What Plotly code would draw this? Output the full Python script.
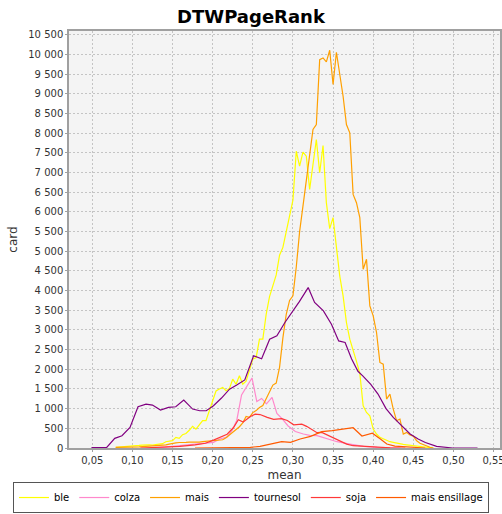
import plotly.graph_objects as go

# ---- data ----
# fine grid used by "ble" and "mais" (bin step 1/240)
MEAN_FINE = [round(0.05 + i / 240, 5) for i in range(7, 103)]

BLE = [15, 20, 25, 35, 45, 55, 58, 65, 75, 84, 80, 76, 85, 100, 110, 160, 170, 186,
       271, 246, 338, 370, 450, 550, 480, 600, 694, 694, 950, 1200, 1450, 1500, 1540,
       1455, 1510, 1751, 1620, 1835, 1624, 1700, 2005, 2259, 2300, 2766, 2766, 3400,
       3850, 4100, 4400, 4900, 5100, 5500, 5950, 6300, 7545, 7165, 7520, 7419, 6573,
       7250, 7842, 6997, 7690, 6235, 5576, 5855, 5100, 4373, 3866, 3190, 2766, 2450,
       2200, 1900, 1074, 905, 820, 482, 355, 271, 230, 190, 160, 145, 120, 100, 90, 80,
       70, 60, 50, 40, 30, 20, 10, 0]

MAIS = [15, 15, 20, 20, 25, 25, 30, 30, 35, 40, 45, 50, 55, 60, 70, 80, 100, 120, 130,
        140, 150, 145, 150, 145, 140, 150, 160, 170, 165, 175, 190, 200, 210, 260, 330,
        420, 480, 540, 640, 800, 780, 900, 950, 1030, 1080, 1250, 1450, 1600, 1650, 2050,
        2800, 3400, 3750, 3870, 4600, 5500, 6150, 6850, 7450, 8096, 8223, 9873, 9915,
        9814, 10110, 9240, 10060, 9535, 8941, 8223, 8012, 6447, 6236, 5855, 4543, 4797,
        3612, 3358, 2936, 2175, 2132, 1244, 1371, 990, 693, 736, 355, 398, 330, 300, 185,
        120, 80, 40, 20, 0]

COLZA_X = [0.122, 0.141, 0.159, 0.178, 0.191, 0.201, 0.209, 0.218, 0.224, 0.230, 0.236,
           0.243, 0.249, 0.255, 0.261, 0.267, 0.274, 0.280, 0.287, 0.294, 0.303, 0.313,
           0.321, 0.330, 0.343, 0.355, 0.371, 0.388, 0.405, 0.421, 0.434]
COLZA = [0, 20, 60, 90, 110, 145, 228, 280, 440, 700, 1350, 1580, 1780, 1180, 1260, 1120,
         1287, 880, 736, 560, 420, 355, 320, 313, 228, 160, 100, 43, 18, 5, 0]

TOURNESOL_X = [0.049, 0.068, 0.078, 0.087, 0.097, 0.107, 0.117, 0.125, 0.135, 0.145,
               0.154, 0.164, 0.175, 0.184, 0.192, 0.201, 0.211, 0.221, 0.230, 0.240,
               0.251, 0.261, 0.271, 0.280, 0.290, 0.300, 0.308, 0.319, 0.327, 0.338,
               0.348, 0.357, 0.365, 0.373, 0.381, 0.387, 0.397, 0.406, 0.416, 0.425,
               0.436, 0.446, 0.456, 0.465, 0.479, 0.489, 0.499, 0.530]
TOURNESOL = [10, 15, 246, 313, 524, 1049, 1117, 1091, 964, 1033, 1049, 1218, 990, 947, 947,
             1074, 1270, 1497, 1600, 1730, 2343, 2270, 2766, 2850, 3190, 3485, 3720, 4078,
             3698, 3485, 3147, 2723, 2681, 2270, 1950, 1835, 1620, 1371, 1000, 778, 566,
             355, 228, 140, 43, 15, 0, 0]

SOJA_X = [0.110, 0.134, 0.159, 0.178, 0.191, 0.201, 0.209, 0.218, 0.226, 0.232, 0.238,
          0.247, 0.253, 0.259, 0.268, 0.276, 0.286, 0.293, 0.301, 0.311, 0.317, 0.322,
          0.330, 0.336, 0.341, 0.346, 0.351, 0.359, 0.367, 0.375, 0.388, 0.405, 0.421,
          0.440]
SOJA = [0, 15, 40, 80, 120, 200, 270, 350, 520, 720, 660, 800, 860, 850, 780, 730, 745,
        700, 590, 605, 550, 482, 390, 398, 350, 313, 271, 186, 100, 58, 43, 18, 5, 0]

ENSILLAGE_X = [0.178, 0.209, 0.234, 0.247, 0.259, 0.272, 0.286, 0.297, 0.309, 0.322,
               0.336, 0.349, 0.361, 0.375, 0.386, 0.399, 0.409, 0.417, 0.427, 0.440,
               0.452, 0.465]
ENSILLAGE = [0, 5, 10, 15, 43, 100, 160, 145, 228, 297, 414, 440, 482, 516, 305, 375,
             228, 100, 50, 30, 15, 0]

SERIES = [
    ("ble", MEAN_FINE, BLE, "#FFFF00"),
    ("colza", COLZA_X, COLZA, "#FF88CC"),
    ("mais", MEAN_FINE, MAIS, "#FFA000"),
    ("tournesol", TOURNESOL_X, TOURNESOL, "#800080"),
    ("soja", SOJA_X, SOJA, "#FF3838"),
    ("mais ensillage", ENSILLAGE_X, ENSILLAGE, "#FF5A00"),
]

fig = go.Figure()
for name, xs, ys, color in SERIES:
    fig.add_trace(go.Scatter(x=xs, y=ys, mode="lines", name=name,
                             line=dict(color=color, width=1.2)))

axis_common = dict(
    showgrid=True, gridcolor="#C4C4C4", griddash="2px,2px", gridwidth=1,
    showline=True, linecolor="#A0A0A0", linewidth=1.5, mirror=True,
    ticks="outside", ticklen=2, tickcolor="#A0A0A0", zeroline=False,
    automargin=False,
    tickfont=dict(family="DejaVu Sans", size=10, color="#333333"),
)

fig.update_layout(
    width=502, height=514,
    margin=dict(l=69, r=2, t=31, b=65),
    paper_bgcolor="white", plot_bgcolor="#F4F4F4",
    separators=", ",
    font=dict(family="DejaVu Sans", size=10, color="#333333"),
    title=dict(text="<b>DTWPageRank</b>", x=0.5, xref="container", xanchor="center",
               y=1 - 17 / 514, yref="container", yanchor="middle",
               font=dict(family="DejaVu Sans", size=18, color="#000000")),
    xaxis=dict(axis_common, range=[0.021, 0.558], tick0=0.05, dtick=0.05,
               tickformat=".2f", ticklabeloverflow="allow",
               title=dict(text="mean", standoff=6,
                          font=dict(family="DejaVu Sans", size=12, color="#333333"))),
    yaxis=dict(axis_common, range=[0, 10600], tick0=0, dtick=500, tickformat=",d",
               title=dict(text="card", standoff=8,
                          font=dict(family="DejaVu Sans", size=12, color="#333333"))),
    legend=dict(orientation="h", x=-0.13, xanchor="left", y=-0.079, yanchor="top",
                bgcolor="white", bordercolor="#555555", borderwidth=1,
                font=dict(family="DejaVu Sans", size=10, color="#000000"),
                itemwidth=30, tracegroupgap=0),
    showlegend=True,
)

fig.write_html("out.html", config={"displayModeBar": False},
               post_script="document.body.style.margin='0px';")
